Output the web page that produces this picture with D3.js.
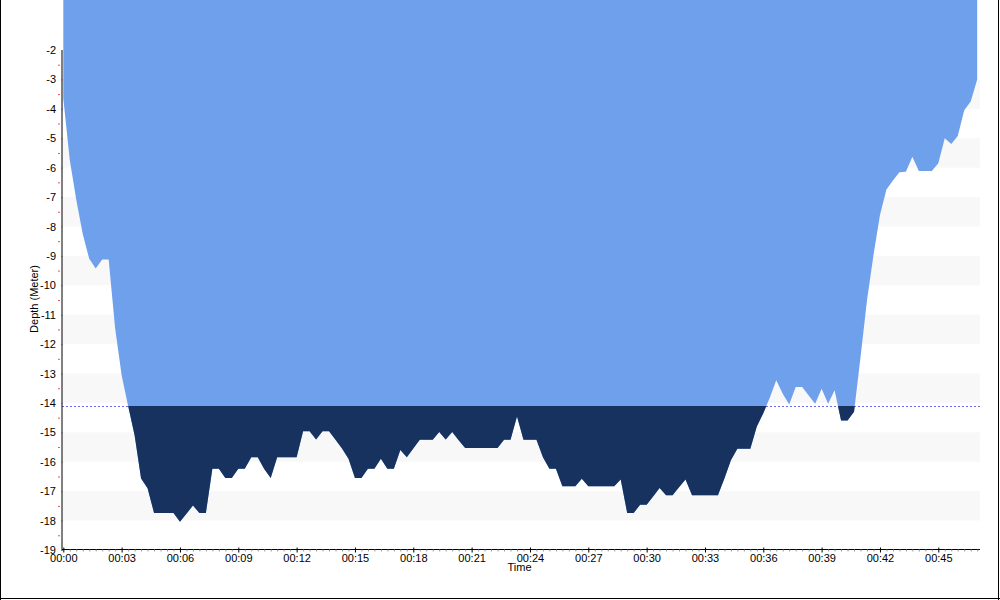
<!DOCTYPE html>
<html><head><meta charset="utf-8">
<script src="https://cdn.jsdelivr.net/npm/d3@7"></script>
<style>
body{margin:0;background:#fff}
svg{display:block}
text{font-family:"Liberation Sans",Arial,sans-serif;font-size:11px;fill:#000}
</style>
</head><body>
<svg id="chart" width="1000" height="600"></svg>
<script>
// ---- data (time in seconds, depth in meters) ----
const timeSec = [
  0,20,40,60,80,100,120,140,160,180,200,220,240,260,280,300,320,340,360,380,
  400,420,440,460,480,500,520,540,560,580,600,620,640,660,680,700,720,740,760,780,
  800,820,840,860,880,900,920,940,960,980,1000,1020,1040,1060,1080,1100,1120,1140,1160,1180,
  1200,1220,1240,1260,1280,1300,1320,1340,1360,1380,1400,1420,1440,1460,1480,1500,1520,1540,1560,1580,
  1600,1620,1640,1660,1680,1700,1720,1740,1760,1780,1800,1820,1840,1860,1880,1900,1920,1940,1960,1980,
  2000,2020,2040,2060,2080,2100,2120,2140,2160,2180,2200,2220,2240,2260,2280,2300,2320,2340,2360,2380,
  2400,2420,2440,2460,2480,2500,2520,2540,2560,2580,2600,2620,2640,2660,2680,2700,2720,2740,2760,2780,
  2800,2820
];
const depthM = [
  -3.64,-5.74,-7.09,-8.26,-9.10,-9.43,-9.12,-9.12,-11.47,-13.06,-14.10,-15.10,-16.57,-16.90,-17.74,-17.74,-17.74,-17.74,-18.04,-17.77,
  -17.49,-17.74,-17.74,-16.24,-16.24,-16.55,-16.55,-16.24,-16.24,-15.85,-15.85,-16.25,-16.55,-15.85,-15.85,-15.85,-15.85,-14.96,-14.96,-15.24,
  -14.96,-14.96,-15.25,-15.55,-15.90,-16.55,-16.55,-16.24,-16.24,-15.90,-16.24,-16.24,-15.60,-15.85,-15.55,-15.25,-15.25,-15.25,-14.99,-15.24,
  -14.99,-15.27,-15.53,-15.53,-15.53,-15.53,-15.53,-15.53,-15.25,-15.25,-14.46,-15.25,-15.25,-15.25,-15.85,-16.24,-16.24,-16.83,-16.83,-16.83,
  -16.58,-16.83,-16.83,-16.83,-16.83,-16.83,-16.60,-17.74,-17.74,-17.46,-17.46,-17.18,-16.89,-17.14,-17.14,-16.87,-16.60,-17.14,-17.14,-17.14,
  -17.14,-17.14,-16.57,-15.95,-15.56,-15.56,-15.56,-14.80,-14.35,-13.82,-13.23,-13.69,-14.05,-13.46,-13.46,-13.75,-14.03,-13.52,-14.03,-13.57,
  -14.60,-14.60,-14.30,-12.45,-10.51,-8.97,-7.61,-6.74,-6.44,-6.16,-6.14,-5.63,-6.11,-6.11,-6.11,-5.85,-5.00,-5.20,-4.92,-4.05,
  -3.75,-3.00
];
const thresholdDepth = -14.1;
const yTickValues = [-19,-18,-17,-16,-15,-14,-13,-12,-11,-10,-9,-8,-7,-6,-5,-4,-3,-2];
const yMinorValues = [-18.5,-17.5,-16.5,-15.5,-14.5,-13.5,-12.5,-11.5,-10.5,-9.5,-8.5,-7.5,-6.5,-5.5,-4.5,-3.5,-2.5];
const stripeTops = [-3,-5,-7,-9,-11,-13,-15,-17];
const xTickSec = [0,180,360,540,720,900,1080,1260,1440,1620,1800,1980,2160,2340,2520,2700];
const xTickLabels = ["00:00","00:03","00:06","00:09","00:12","00:15","00:18","00:21","00:24","00:27","00:30","00:33","00:36","00:39","00:42","00:45"];

const data = timeSec.map((t,i)=>({t, d: depthM[i]}));

// ---- layout ----
const plotL = 62, plotR = 980, plotT = 0, plotB = 549.5;
const pxPerMin = 875/45;
const x = d3.scaleLinear().domain([0, 2820]).range([63.3, 63.3 + 2820/60*pxPerMin]);
const y = d3.scaleLinear().domain([-19, -2]).range([550, 50]);

const svg = d3.select("#chart");

// border (left, right, bottom)
svg.append("line").attr("x1",0.5).attr("x2",0.5).attr("y1",0).attr("y2",600).attr("stroke","#000");
svg.append("line").attr("x1",998.5).attr("x2",998.5).attr("y1",0).attr("y2",600).attr("stroke","#000");
svg.append("line").attr("x1",0).attr("x2",1000).attr("y1",598.5).attr("y2",598.5).attr("stroke","#000");

// stripes
svg.append("g").selectAll("rect").data(stripeTops).join("rect")
  .attr("x", plotL).attr("width", plotR - plotL)
  .attr("y", d => y(d)).attr("height", d => y(d-1) - y(d))
  .attr("fill", "#f8f8f8");

// threshold dashed line
svg.append("line")
  .attr("x1", plotL).attr("x2", plotR)
  .attr("y1", Math.round(y(thresholdDepth)) + 0.5).attr("y2", Math.round(y(thresholdDepth)) + 0.5)
  .attr("stroke", "#6a6af0").attr("stroke-dasharray", "2,2").attr("stroke-width", 1);

// blue area (surface to profile)
const areaTop = d3.area().x(d => x(d.t)).y0(plotT).y1(d => y(d.d));
svg.append("path").datum(data).attr("d", areaTop).attr("fill", "#6fa0ec");

// navy area (below threshold)
svg.append("clipPath").attr("id","below").append("rect")
  .attr("x", plotL).attr("width", plotR - plotL)
  .attr("y", y(thresholdDepth)).attr("height", plotB - y(thresholdDepth));
const areaDeep = d3.area().x(d => x(d.t)).y0(y(thresholdDepth)).y1(d => y(d.d));
svg.append("path").datum(data).attr("d", areaDeep).attr("fill", "#17325f").attr("clip-path","url(#below)");

// y axis
const gy = svg.append("g").attr("transform", `translate(${plotL - 0.5},0)`);
gy.call(d3.axisLeft(y).tickValues(yTickValues).tickFormat(d => String(d)).tickSize(4).tickSizeOuter(0));
gy.select(".domain").attr("stroke","#000");
gy.selectAll(".tick line").attr("stroke","#444").attr("x2", 1);
gy.selectAll(".tick text").attr("x", -5.5).attr("fill","#000").style("font-size","11px").style("font-family","'Liberation Sans',Arial,sans-serif");
const gyMinor = svg.append("g").attr("transform", `translate(${plotL - 2},0)`);
gyMinor.call(d3.axisLeft(y).tickValues(yMinorValues).tickFormat("").tickSize(2).tickSizeOuter(0));
gyMinor.select(".domain").remove();
gyMinor.selectAll(".tick line").attr("stroke","#f05050");

// x axis
const gx = svg.append("g").attr("transform", `translate(0,${plotB})`);
gx.append("line").attr("x1", plotL).attr("x2", plotR).attr("stroke","#000");
const xMinor = d3.range(0, 2821, 20).filter(v => v % 180 !== 0);
const gxm = gx.append("g");
gxm.call(d3.axisBottom(x).tickValues(xMinor).tickFormat("").tickSize(2).tickSizeOuter(0));
gxm.select(".domain").remove();
gxm.selectAll(".tick line").attr("stroke","#999");
const gxM = gx.append("g");
gxM.call(d3.axisBottom(x).tickValues(xTickSec).tickFormat((d,i) => xTickLabels[i]).tickSize(3).tickSizeOuter(0));
gxM.select(".domain").remove();
gxM.selectAll(".tick line").attr("stroke","#000").attr("y1",-2);
gxM.selectAll(".tick text").attr("y", 12.5).attr("dy", 0).attr("fill","#000").style("font-size","11px").style("font-family","'Liberation Sans',Arial,sans-serif");

// titles
svg.append("text").attr("transform","translate(38,299) rotate(-90)").attr("text-anchor","middle").text("Depth (Meter)");
svg.append("text").attr("x", 519.5).attr("y", 571).attr("text-anchor","middle").text("Time");
</script>
</body></html>
